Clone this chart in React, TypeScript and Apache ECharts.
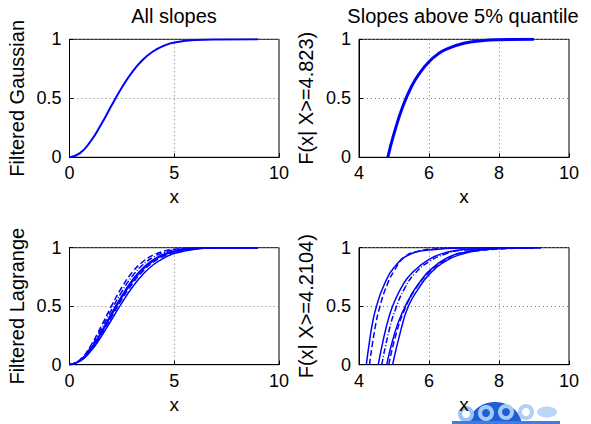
import React, { useEffect, useRef } from "react";
import * as echarts from "echarts";

// ---- data ----
const titles = ["All slopes", "Slopes above 5% quantile"];
const yNames = ["Filtered Gaussian", "F(x| X>=4.823)", "Filtered Lagrange", "F(x| X>=4.2104)"];
const leftTicks = { min: 0, max: 10, interval: 5 };
const rightTicks = { min: 4, max: 10, interval: 2 };

const xAll = [0, 0.5, 1, 1.5, 2, 2.5, 3, 3.5, 4, 4.5, 5, 6, 7, 9];
const gaussAll = [0, 0.035, 0.134, 0.275, 0.436, 0.591, 0.724, 0.827, 0.899, 0.945, 0.972, 0.994, 0.999, 1];

const xGaussTail = [4.823, 5.0, 5.25, 5.5, 5.75, 6.0, 6.25, 6.5, 7.0, 7.5, 8.0, 9.0];
const gaussTail = [0, 0.2, 0.43, 0.6, 0.72, 0.81, 0.874, 0.917, 0.966, 0.987, 0.996, 1];

const lagAll1 = [0, 0.042, 0.159, 0.323, 0.5, 0.662, 0.79, 0.88, 0.9375, 0.97, 0.987, 0.998, 1, 1];
const lagAll2 = [0, 0.038, 0.145, 0.298, 0.467, 0.625, 0.757, 0.854, 0.919, 0.958, 0.98, 0.997, 1, 1];
const lagAll3 = [0, 0.035, 0.134, 0.275, 0.436, 0.591, 0.724, 0.827, 0.899, 0.945, 0.972, 0.994, 0.999, 1];
const lagAll4 = [0, 0.034, 0.129, 0.265, 0.422, 0.575, 0.708, 0.813, 0.888, 0.937, 0.967, 0.993, 0.999, 1];
const lagAll5 = [0, 0.032, 0.123, 0.255, 0.408, 0.559, 0.692, 0.799, 0.877, 0.929, 0.962, 0.991, 0.998, 1];
const lagAll6 = [0, 0.03, 0.113, 0.237, 0.382, 0.529, 0.662, 0.771, 0.854, 0.912, 0.951, 0.987, 0.997, 1];

const tailAx = [4.21, 4.3, 4.4, 4.5, 4.7, 5.0, 5.5, 6.0, 7.0, 9.0];
const tailAy = [0, 0.2, 0.38, 0.5, 0.67, 0.83, 0.95, 0.98, 0.997, 1];
const tailBx = [4.3, 4.45, 4.6, 4.8, 5.0, 5.3, 5.7, 6.2, 7.0, 9.0];
const tailBy = [0, 0.3, 0.5, 0.68, 0.8, 0.92, 0.97, 0.99, 1, 1];
const tailCx = [4.55, 4.7, 4.85, 5.0, 5.25, 5.5, 6.0, 6.5, 7.0, 9.0];
const tailCy = [0, 0.22, 0.4, 0.53, 0.68, 0.78, 0.9, 0.96, 0.985, 1];
const tailDx = [4.65, 4.85, 5.05, 5.3, 5.6, 6.0, 6.5, 7.0, 9.0];
const tailDy = [0, 0.28, 0.48, 0.65, 0.78, 0.88, 0.95, 0.98, 1];
const tailEx = [4.79, 5.0, 5.2, 5.5, 5.8, 6.0, 6.5, 7.0, 7.5, 9.2];
const tailEy = [0, 0.25, 0.42, 0.6, 0.73, 0.8, 0.91, 0.96, 0.985, 1];
const tailFx = [4.85, 5.05, 5.3, 5.6, 6.0, 6.5, 7.0, 9.0];
const tailFy = [0, 0.25, 0.47, 0.64, 0.79, 0.9, 0.96, 1];
const tailGx = [4.96, 5.2, 5.41, 5.7, 6.0, 6.5, 7.0, 7.5, 8.0, 9.2];
const tailGy = [0, 0.3, 0.5, 0.65, 0.77, 0.89, 0.95, 0.98, 0.995, 1];

const zip = (xs: number[], ys: number[]) => xs.map((x, i) => [x, ys[i]]);

const FONT = "Liberation Sans, Arial, Helvetica, sans-serif";
const BLUE = "#0000ff";
const DASH = [6, 3];
const DASHDOT = [6, 2, 1, 2];

export default function App() {
  const ref = useRef<HTMLDivElement>(null);
  useEffect(() => {
    if (!ref.current) return;
    const chart = echarts.init(ref.current, null, { renderer: "svg" });

    const grids = [
      { left: 69.5, top: 39.3, width: 209.5, height: 118 },
      { left: 359, top: 39.3, width: 210, height: 118 },
      { left: 69.5, top: 247.7, width: 209.5, height: 117 },
      { left: 359, top: 247.7, width: 210, height: 117 },
    ].map((g) => ({ ...g, show: true, borderColor: "#000", borderWidth: 1, backgroundColor: "#fff" }));

    const splitLine = { show: true, lineStyle: { color: "#777", type: [1, 3] as any, width: 1 } };
    const axisLabel = { color: "#000", fontSize: 18, fontFamily: FONT };
    const xAxes = [0, 1, 2, 3].map((i) => {
      const t = i % 2 === 0 ? leftTicks : rightTicks;
      return {
        type: "value",
        gridIndex: i,
        ...t,
        name: "x",
        nameLocation: "middle",
        nameGap: 30,
        nameTextStyle: { color: "#000", fontSize: 19, fontFamily: FONT },
        axisLine: { show: true, lineStyle: { color: "#000" } },
        axisTick: { show: true, inside: true, length: 4, lineStyle: { color: "#000" } },
        axisLabel: { ...axisLabel, margin: 7 },
        splitLine,
      };
    });
    const yAxes = [0, 1, 2, 3].map((i) => ({
      type: "value",
      gridIndex: i,
      min: 0,
      max: 1,
      interval: 0.5,
      name: yNames[i],
      nameLocation: "middle",
      nameGap: 43,
      nameTextStyle: { color: "#000", fontSize: 20, fontFamily: FONT },
      axisLine: { show: true, lineStyle: { color: "#000" } },
      axisTick: { show: true, inside: true, length: 4, lineStyle: { color: "#000" } },
      axisLabel: { ...axisLabel, margin: 8 },
      splitLine,
    }));

    const mk = (idx: number, data: number[][], type: any, width = 1.5) => ({
      type: "line",
      xAxisIndex: idx,
      yAxisIndex: idx,
      data,
      showSymbol: false,
      smooth: 0.5,
      lineStyle: { color: BLUE, width, type },
      silent: true,
    });

    const series = [
      mk(0, zip(xAll, gaussAll), "solid", 2),
      mk(1, zip(xGaussTail, gaussTail), "solid", 3),
      mk(2, zip(xAll, lagAll1), DASH),
      mk(2, zip(xAll, lagAll2), DASHDOT),
      mk(2, zip(xAll, lagAll3), "solid"),
      mk(2, zip(xAll, lagAll4), "solid"),
      mk(2, zip(xAll, lagAll5), DASH),
      mk(2, zip(xAll, lagAll6), "solid"),
      mk(3, zip(tailAx, tailAy), "solid"),
      mk(3, zip(tailBx, tailBy), DASH),
      mk(3, zip(tailCx, tailCy), "solid"),
      mk(3, zip(tailDx, tailDy), DASHDOT),
      mk(3, zip(tailEx, tailEy), "solid"),
      mk(3, zip(tailFx, tailFy), DASH),
      mk(3, zip(tailGx, tailGy), "solid"),
    ];

    const titleStyle = (text: string) => ({
      text,
      fill: "#000",
      fontSize: 20,
      fontFamily: FONT,
      textAlign: "center",
      textVerticalAlign: "middle",
    });

    chart.setOption({
      animation: false,
      backgroundColor: "#fff",
      grid: grids,
      xAxis: xAxes,
      yAxis: yAxes,
      series,
      graphic: [
        { type: "text", x: 174, y: 16, style: titleStyle(titles[0]) },
        { type: "text", x: 463, y: 16, style: titleStyle(titles[1]) },
        // logo (approximation)
        { type: "ellipse", shape: { cx: 495, cy: 426, rx: 27, ry: 24 }, style: { fill: "#1f5fd6" } },
        { type: "ring", shape: { cx: 466, cy: 414, r: 8, r0: 4 }, style: { fill: "#9cc3f5" } },
        { type: "ring", shape: { cx: 486, cy: 413, r: 8, r0: 4 }, style: { fill: "#a6c9f5" } },
        { type: "ring", shape: { cx: 506, cy: 412, r: 8, r0: 4 }, style: { fill: "#a6c9f5" } },
        { type: "ring", shape: { cx: 526, cy: 412, r: 8, r0: 4 }, style: { fill: "#b2d0f6" } },
        { type: "ellipse", shape: { cx: 547, cy: 412, rx: 10, ry: 5.5 }, style: { fill: "#bcd6f7" } },
        { type: "rect", shape: { x: 452, y: 421, width: 108, height: 3 }, style: { fill: "#3b7de0" } },
      ],
    });
    return () => chart.dispose();
  }, []);
  return (
    <div
      ref={ref}
      style={{ position: "fixed", left: 0, top: 0, width: 591, height: 424, background: "#fff" }}
    />
  );
}
